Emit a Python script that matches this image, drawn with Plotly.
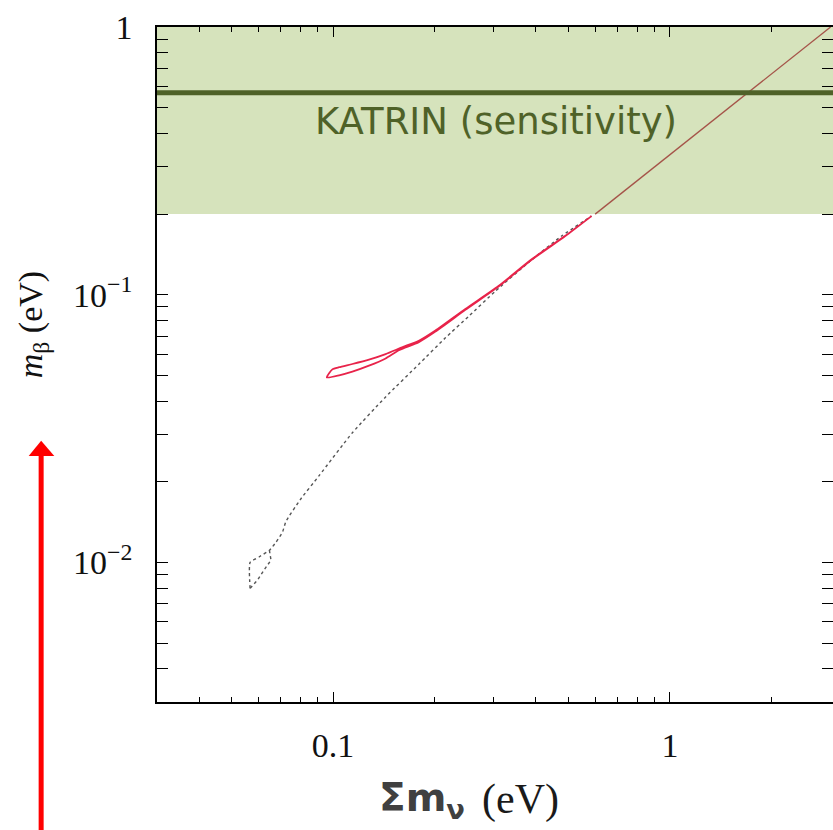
import math
import plotly.graph_objects as go

# ---------------- data ----------------
# red contour (closed loop): upper edge then lower edge
red_upper_x = [0.0958, 0.0995, 0.1042, 0.1141, 0.1278, 0.1432, 0.1603, 0.1797, 0.2013, 0.247, 0.3098, 0.3887, 0.488, 0.585]
red_upper_y = [0.0491, 0.0526, 0.0536, 0.0551, 0.0572, 0.0600, 0.0636, 0.0673, 0.0735, 0.0885, 0.1078, 0.1356, 0.1656, 0.1966]
red_lower_x = [0.585, 0.488, 0.3887, 0.3098, 0.247, 0.2013, 0.1797, 0.1568, 0.1432, 0.1278, 0.1141, 0.1042, 0.0958]
red_lower_y = [0.1966, 0.1652, 0.1350, 0.1072, 0.0878, 0.0728, 0.0665, 0.0620, 0.0578, 0.0543, 0.0516, 0.0500, 0.0491]

# dotted curve (main branch) and its small lower branch near the minimum
dot_main_x = [0.0567, 0.0567, 0.0604, 0.0647, 0.0677, 0.0708, 0.0724, 0.0800, 0.0909, 0.1141, 0.1432, 0.1797, 0.2155, 0.2526, 0.3029, 0.3801, 0.4769, 0.585]
dot_main_y = [0.0080, 0.0100, 0.0105, 0.0111, 0.0119, 0.0130, 0.0142, 0.0172, 0.0211, 0.0305, 0.0415, 0.0550, 0.0690, 0.0830, 0.1030, 0.1318, 0.1656, 0.1966]
dot_low_x = [0.0647, 0.0654, 0.0625, 0.0597, 0.0567]
dot_low_y = [0.0111, 0.0102, 0.0094, 0.0086, 0.0080]

# quasi-degenerate continuation inside the band
diag_x = [0.6, 3.0]
diag_y = [0.2, 1.0]

# KATRIN band and sensitivity line
band_low, band_high = 0.2, 1.0
katrin_line = 0.568
katrin_label = "KATRIN (sensitivity)"

# axes
x_range = [0.03, 3.05]
y_range = [0.00301, 1.0]
x_major = [0.1, 1]
x_major_text = ["0.1", "1"]
x_minor = [0.04, 0.05, 0.06, 0.07, 0.08, 0.09, 0.2, 0.3, 0.4, 0.5, 0.6, 0.7, 0.8, 0.9, 2]
y_major = [0.01, 0.1, 1.0]
y_major_text = ["10<sup>−2</sup>", "10<sup>−1</sup>", "1"]
y_minor = [0.004, 0.005, 0.006, 0.007, 0.008, 0.009,
           0.02, 0.03, 0.04, 0.05, 0.06, 0.07, 0.08, 0.09,
           0.2, 0.3, 0.4, 0.5, 0.6, 0.7, 0.8, 0.9]

# ---------------- figure ----------------
fig = go.Figure()

fig.add_trace(go.Scatter(x=diag_x, y=diag_y, mode="lines",
                         line=dict(color="rgba(160,68,60,0.9)", width=1.3),
                         hoverinfo="skip", showlegend=False))
fig.add_trace(go.Scatter(x=dot_main_x, y=dot_main_y, mode="lines",
                         line=dict(color="#555555", width=1.4, dash="dot", shape="spline", smoothing=0.5),
                         showlegend=False))
fig.add_trace(go.Scatter(x=dot_low_x, y=dot_low_y, mode="lines",
                         line=dict(color="#555555", width=1.4, dash="dot"),
                         showlegend=False))
fig.add_trace(go.Scatter(x=red_upper_x + red_lower_x, y=red_upper_y + red_lower_y, mode="lines",
                         line=dict(color="#E8234A", width=1.8, shape="spline", smoothing=0.6),
                         showlegend=False))

# band and line
fig.add_hrect(y0=band_low, y1=band_high, fillcolor="#D6E3BC", line_width=0, layer="below")
fig.add_hline(y=katrin_line, line=dict(color="#4F6228", width=5))

serif = "Liberation Serif"

fig.update_xaxes(type="log", range=[math.log10(x_range[0]), math.log10(x_range[1])],
                 showline=True, linecolor="black", linewidth=1.5, mirror="ticks",
                 ticks="inside", ticklen=10, tickwidth=1.2, tickcolor="black",
                 tickmode="array", tickvals=x_major, ticktext=x_major_text,
                 minor=dict(ticks="inside", ticklen=5, tickwidth=1.2, tickcolor="black",
                            tickmode="array", tickvals=x_minor),
                 showgrid=False, zeroline=False, ticklabelstandoff=12,
                 tickfont=dict(family=serif, size=34, color="#111111"))
fig.update_yaxes(type="log", range=[math.log10(y_range[0]), math.log10(y_range[1])],
                 showline=True, linecolor="black", linewidth=1.5, mirror="ticks",
                 ticks="inside", ticklen=11, tickwidth=1.2, tickcolor="black",
                 tickmode="array", tickvals=y_major, ticktext=y_major_text,
                 minor=dict(ticks="inside", ticklen=11, tickwidth=1.2, tickcolor="black",
                            tickmode="array", tickvals=y_minor),
                 showgrid=False, zeroline=False, ticklabelstandoff=16,
                 tickfont=dict(family=serif, size=34, color="#111111"))

L, T = 157, 27
decade_px = 338
pw = round(decade_px * math.log10(x_range[1] / x_range[0]))
ph = 675
R, B = 0, 128
W = L + pw + R          # slightly wider than the window: right frame falls just outside, as in the reference
H = T + ph + B


def px(xp):
    return (xp - L) / pw


def py(yp):
    return (T + ph - yp) / ph


fig.add_annotation(text=katrin_label, xref="paper", yref="paper", x=px(497), y=py(122),
                   xanchor="center", yanchor="middle", showarrow=False,
                   font=dict(family="DejaVu Sans", size=37, color="#4F6228"))
fig.add_annotation(text="<b>Σm<sub>ν</sub></b>", xref="paper", yref="paper", x=px(378), y=py(800),
                   xanchor="left", yanchor="middle", showarrow=False,
                   font=dict(family="DejaVu Sans", size=39, color="#404040"))
fig.add_annotation(text="(eV)", xref="paper", yref="paper", x=px(481), y=py(800),
                   xanchor="left", yanchor="middle", showarrow=False,
                   font=dict(family=serif, size=42, color="#1a1a1a"))
fig.add_annotation(text="<i>m</i><sub>β</sub> (eV)", xref="paper", yref="paper", x=px(33), y=py(325),
                   xanchor="center", yanchor="middle", showarrow=False, textangle=-90,
                   font=dict(family=serif, size=34, color="#111111"))

# red arrow (decoration, left margin)
fig.add_shape(type="line", xref="paper", yref="paper", x0=px(40.8), x1=px(40.8), y0=py(840), y1=py(452),
              line=dict(color="#FF0000", width=5))
fig.add_shape(type="path", xref="paper", yref="paper",
              path=f"M {px(28.3)},{py(456)} L {px(54)},{py(456)} L {px(40.8)},{py(440.7)} Z",
              fillcolor="#FF0000", line=dict(color="#FF0000", width=0))

fig.update_layout(width=W, height=H, margin=dict(l=L, r=R, t=T, b=B, pad=0),
                  paper_bgcolor="white", plot_bgcolor="white", showlegend=False)

fig.write_html("out.html", config={"displayModeBar": False},
               post_script="document.body.style.margin='0';document.body.style.overflow='hidden';")
